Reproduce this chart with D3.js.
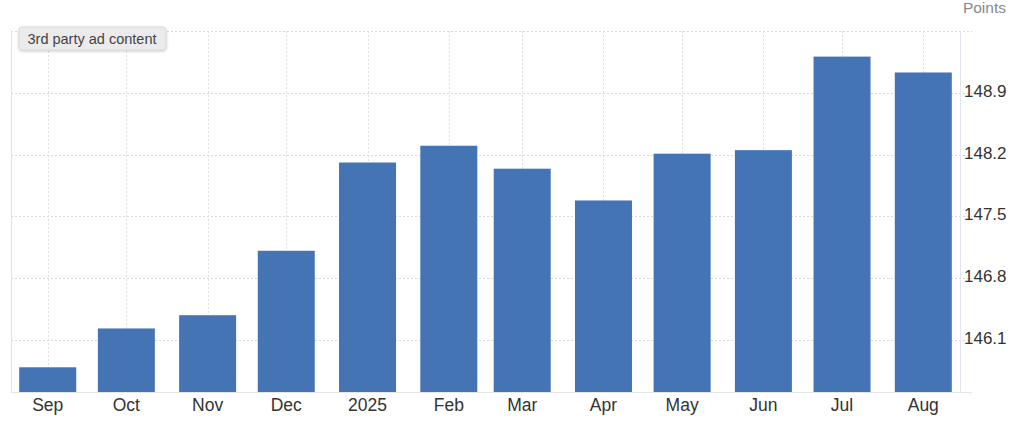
<!DOCTYPE html>
<html>
<head>
<meta charset="utf-8">
<script src="https://cdn.jsdelivr.net/npm/d3@7"></script>
<style>
  body { margin: 0; background: #fff; }
  svg { display: block; font-family: "Liberation Sans", Arial, sans-serif; }
</style>
</head>
<body>
<script>
// data
var months = ["2024-09-01", "2024-10-01", "2024-11-01", "2024-12-01", "2025-01-01", "2025-02-01",
              "2025-03-01", "2025-04-01", "2025-05-01", "2025-06-01", "2025-07-01", "2025-08-01"];
var monthLabels = ["Sep", "Oct", "Nov", "Dec", "2025", "Feb", "Mar", "Apr", "May", "Jun", "Jul", "Aug"];
var values = [145.79, 146.23, 146.38, 147.11, 148.11, 148.30, 148.04, 147.68, 148.21, 148.25, 149.31, 149.13];
var yTicks = [146.1, 146.8, 147.5, 148.2, 148.9, 149.6];
var yTickLabels = ["146.1", "146.8", "147.5", "148.2", "148.9", ""];

function drawChart() {
    var w = 1024, h = 427;
    var pLeft = 11, pRight = 960, pTop = 31, pBottom = 392;

    var svg = d3.select("body").append("svg")
        .attr("width", w)
        .attr("height", h);

    var dates = months.map(function(m) { return new Date(m + "T00:00:00Z"); });

    var x = d3.scaleUtc()
        .domain([new Date("2024-08-18T00:00:00Z"), new Date("2025-08-15T00:00:00Z")])
        .range([pLeft, pRight]);

    var y = d3.scaleLinear()
        .domain([145.51, 149.6])
        .range([pBottom, pTop]);

    var barW = 57;

    // horizontal grid
    svg.append("g").selectAll("line")
        .data(yTicks)
        .enter().append("line")
        .attr("x1", pLeft)
        .attr("x2", 972)
        .attr("y1", function(d) { return Math.round(y(d)) + 0.5; })
        .attr("y2", function(d) { return Math.round(y(d)) + 0.5; })
        .attr("stroke", "#d9d9d9")
        .attr("stroke-dasharray", "2,2");

    // vertical grid at month positions
    svg.append("g").selectAll("line")
        .data(dates)
        .enter().append("line")
        .attr("x1", function(d) { return Math.round(x(d)) + 0.5; })
        .attr("x2", function(d) { return Math.round(x(d)) + 0.5; })
        .attr("y1", pTop)
        .attr("y2", pBottom)
        .attr("stroke", "#dedede")
        .attr("stroke-dasharray", "2,2");

    // left frame line
    svg.append("line")
        .attr("x1", pLeft + 0.5).attr("x2", pLeft + 0.5)
        .attr("y1", pTop).attr("y2", pBottom)
        .attr("stroke", "#e2e2e2");

    // bars
    svg.append("g").selectAll("rect")
        .data(values)
        .enter().append("rect")
        .attr("x", function(d, i) { return x(dates[i]) - barW / 2; })
        .attr("y", function(d) { return y(d); })
        .attr("width", barW)
        .attr("height", function(d) { return pBottom - y(d); })
        .attr("fill", "#4574b4");

    // baseline
    svg.append("line")
        .attr("x1", pLeft).attr("x2", 972)
        .attr("y1", pBottom + 0.5).attr("y2", pBottom + 0.5)
        .attr("stroke", "#e6e6e6");

    // right axis line
    svg.append("line")
        .attr("x1", pRight + 0.5).attr("x2", pRight + 0.5)
        .attr("y1", pTop).attr("y2", pBottom)
        .attr("stroke", "#e3e6ee");

    // y tick labels
    svg.append("g").selectAll("text")
        .data(yTicks)
        .enter().append("text")
        .attr("x", 964)
        .attr("y", function(d) { return y(d) - 2; })
        .attr("dy", "0.35em")
        .attr("font-size", 17)
        .attr("fill", "#333")
        .text(function(d, i) { return yTickLabels[i]; });

    svg.append("text")
        .attr("x", 1006)
        .attr("y", 8)
        .attr("dy", "0.35em")
        .attr("text-anchor", "end")
        .attr("font-size", 15.5)
        .attr("fill", "#888")
        .text("Points");

    // x labels
    svg.append("g").selectAll("text")
        .data(dates)
        .enter().append("text")
        .attr("x", function(d) { return x(d); })
        .attr("y", 405)
        .attr("dy", "0.35em")
        .attr("text-anchor", "middle")
        .attr("font-size", 17.5)
        .attr("fill", "#333")
        .text(function(d, i) { return monthLabels[i]; });

    // ad content badge
    var badge = svg.append("g");
    badge.append("rect")
        .attr("x", 19).attr("y", 27)
        .attr("width", 147).attr("height", 23)
        .attr("rx", 3)
        .attr("fill", "#ebebeb")
        .attr("stroke", "#dcdcdc")
        .style("filter", "drop-shadow(0px 1px 1.5px rgba(0,0,0,0.18))");
    badge.append("text")
        .attr("x", 92).attr("y", 38.5)
        .attr("dy", "0.35em")
        .attr("text-anchor", "middle")
        .attr("font-size", 14.5)
        .attr("fill", "#444")
        .text("3rd party ad content");
}

drawChart();
</script>
</body>
</html>
